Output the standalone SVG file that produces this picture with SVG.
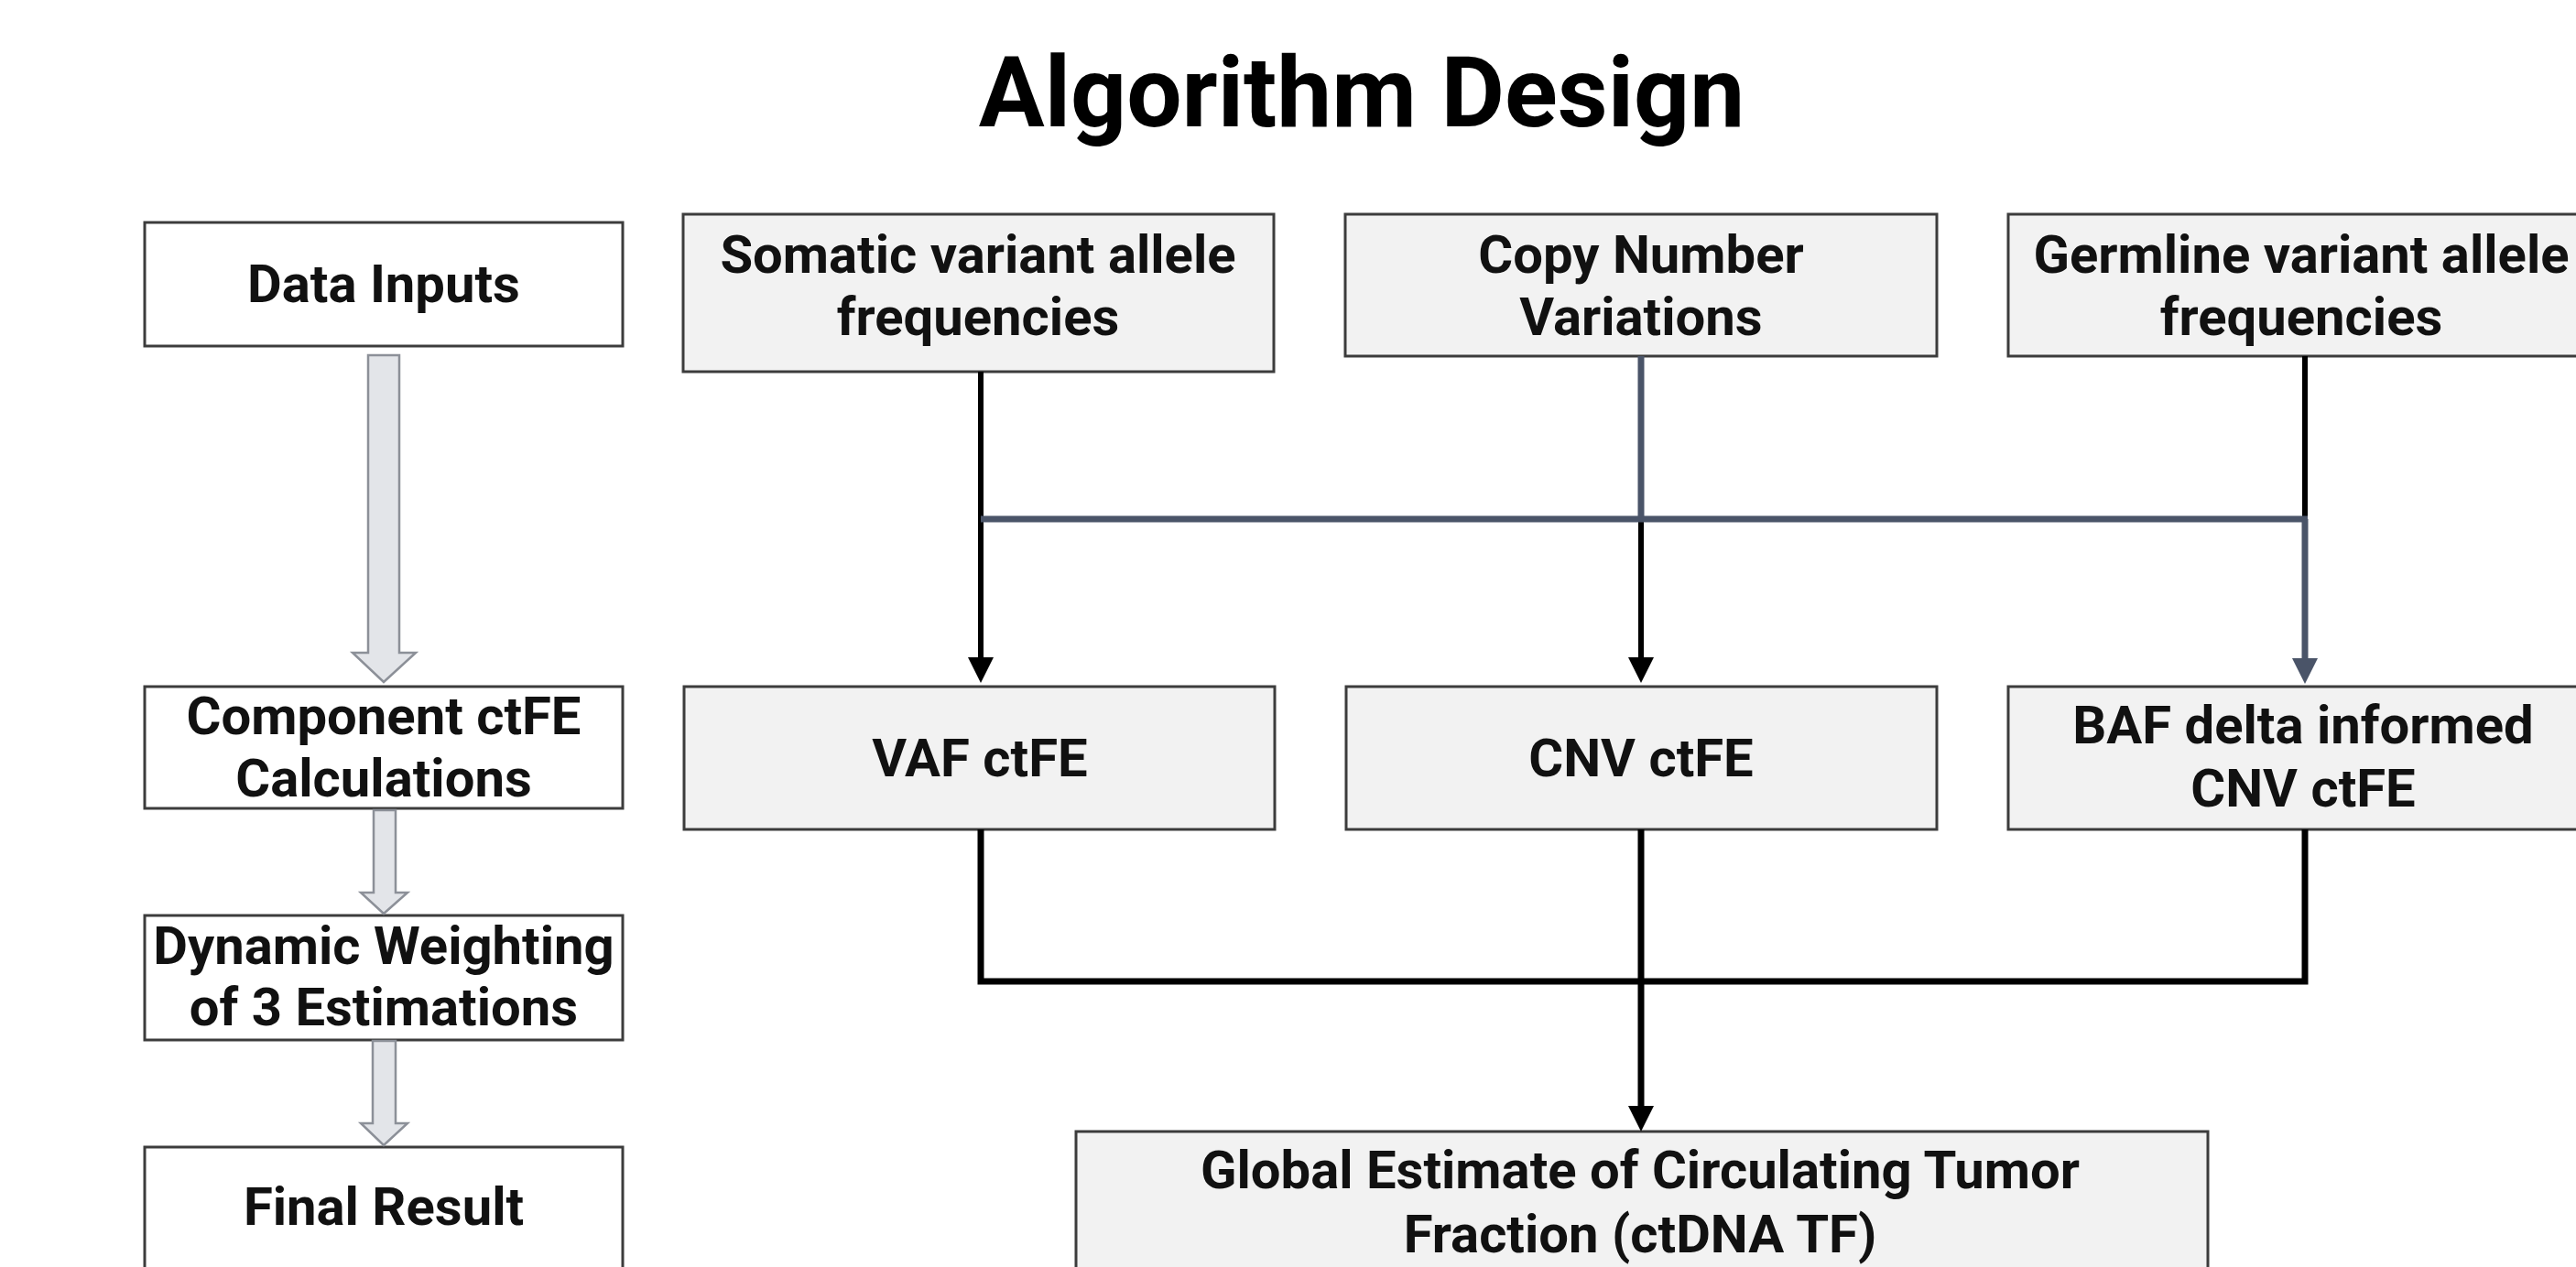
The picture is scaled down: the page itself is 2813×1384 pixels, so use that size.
<svg xmlns="http://www.w3.org/2000/svg" width="2813" height="1384" viewBox="0 0 2813 1384">
  <style>
    text { font-family: Roboto, "Liberation Sans", sans-serif; font-weight: 700; fill: #111; text-anchor: middle; }
    .title { font-size: 107px; fill: #000; }
    .lbl { font-size: 58px; }
    .stage { fill: #ffffff; stroke: #3c3c3c; stroke-width: 3; }
    .box { fill: #f2f2f2; stroke: #3c3c3c; stroke-width: 3; }
    .hollow { fill: #e3e5e9; stroke: #8c9098; stroke-width: 2.5; stroke-linejoin: miter; }
    .blk { stroke: #000; stroke-width: 6; fill: none; }
    .slate { stroke: #4a5468; stroke-width: 7; fill: none; }
    .thick { stroke: #000; stroke-width: 7; fill: none; stroke-linejoin: miter; }
  </style>
  <defs>
    <marker id="headBlack" markerUnits="userSpaceOnUse" markerWidth="30" markerHeight="30" viewBox="0 0 30 30" refX="0" refY="15" orient="auto">
      <path d="M0,1 L28,15 L0,29 Z" fill="#000"/>
    </marker>
    <marker id="headSlate" markerUnits="userSpaceOnUse" markerWidth="30" markerHeight="30" viewBox="0 0 30 30" refX="0" refY="15" orient="auto">
      <path d="M0,1 L28,15 L0,29 Z" fill="#4a5468"/>
    </marker>
  </defs>

  <rect width="2813" height="1384" fill="#ffffff"/>

  <text class="title" x="1487" y="138">Algorithm Design</text>

  <!-- left column stages -->
  <g id="stage-data-inputs">
    <rect class="stage" x="158" y="243" width="522" height="135"/>
    <text class="lbl" x="419" y="330">Data Inputs</text>
  </g>
  <g id="stage-component">
    <rect class="stage" x="158" y="750" width="522" height="133"/>
    <text class="lbl" x="419" y="802">Component ctFE</text>
    <text class="lbl" x="419" y="870">Calculations</text>
  </g>
  <g id="stage-weighting">
    <rect class="stage" x="158" y="1000" width="522" height="136"/>
    <text class="lbl" x="419" y="1053">Dynamic Weighting</text>
    <text class="lbl" x="419" y="1120">of 3 Estimations</text>
  </g>
  <g id="stage-final">
    <rect class="stage" x="158" y="1253" width="522" height="140"/>
    <text class="lbl" x="419" y="1338">Final Result</text>
  </g>

  <!-- input nodes -->
  <g id="node-somatic">
    <rect class="box" x="746" y="234" width="645" height="172"/>
    <text class="lbl" x="1068" y="298">Somatic variant allele</text>
    <text class="lbl" x="1068" y="366">frequencies</text>
  </g>
  <g id="node-cnv">
    <rect class="box" x="1469" y="234" width="646" height="155"/>
    <text class="lbl" x="1792" y="298">Copy Number</text>
    <text class="lbl" x="1792" y="366">Variations</text>
  </g>
  <g id="node-germline">
    <rect class="box" x="2193" y="234" width="660" height="155"/>
    <text class="lbl" x="2513" y="298">Germline variant allele</text>
    <text class="lbl" x="2513" y="366">frequencies</text>
  </g>

  <!-- estimate nodes -->
  <g id="node-vaf-ctfe">
    <rect class="box" x="747" y="750" width="645" height="156"/>
    <text class="lbl" x="1070" y="848">VAF ctFE</text>
  </g>
  <g id="node-cnv-ctfe">
    <rect class="box" x="1470" y="750" width="645" height="156"/>
    <text class="lbl" x="1792" y="848">CNV ctFE</text>
  </g>
  <g id="node-baf-ctfe">
    <rect class="box" x="2193" y="750" width="660" height="156"/>
    <text class="lbl" x="2515" y="812">BAF delta informed</text>
    <text class="lbl" x="2515" y="881">CNV ctFE</text>
  </g>

  <g id="node-global">
    <rect class="box" x="1175" y="1236" width="1236" height="160"/>
    <text class="lbl" x="1791" y="1298">Global Estimate of Circulating Tumor</text>
    <text class="lbl" x="1791" y="1368">Fraction (ctDNA TF)</text>
  </g>

  <!-- connectors -->
  <g id="connectors">
    <!-- left column hollow arrows -->
    <path class="hollow" d="M402,388 L436,388 L436,713 L454,713 L419,745 L385,713 L402,713 Z"/>
    <path class="hollow" d="M408,885 L432,885 L432,975 L445,975 L419,998 L394,975 L408,975 Z"/>
    <path class="hollow" d="M407,1137 L432,1137 L432,1227 L445,1227 L419,1251 L394,1227 L407,1227 Z"/>

    <!-- inputs to estimates -->
    <line class="blk" x1="1071" y1="406" x2="1071" y2="718" marker-end="url(#headBlack)"/>
    <line class="slate" x1="1792" y1="389" x2="1792" y2="567"/>
    <line class="blk" x1="1792" y1="567" x2="1792" y2="718" marker-end="url(#headBlack)"/>
    <line class="blk" x1="2517" y1="389" x2="2517" y2="567"/>
    <line class="slate" x1="1071" y1="567" x2="2520" y2="567"/>
    <line class="slate" x1="2517" y1="567" x2="2517" y2="719" marker-end="url(#headSlate)"/>

    <!-- estimates to global -->
    <path class="thick" d="M1071,906 L1071,1072 L2517,1072 L2517,906"/>
    <line class="thick" x1="1792" y1="906" x2="1792" y2="1208" marker-end="url(#headBlack)"/>
  </g>
</svg>
